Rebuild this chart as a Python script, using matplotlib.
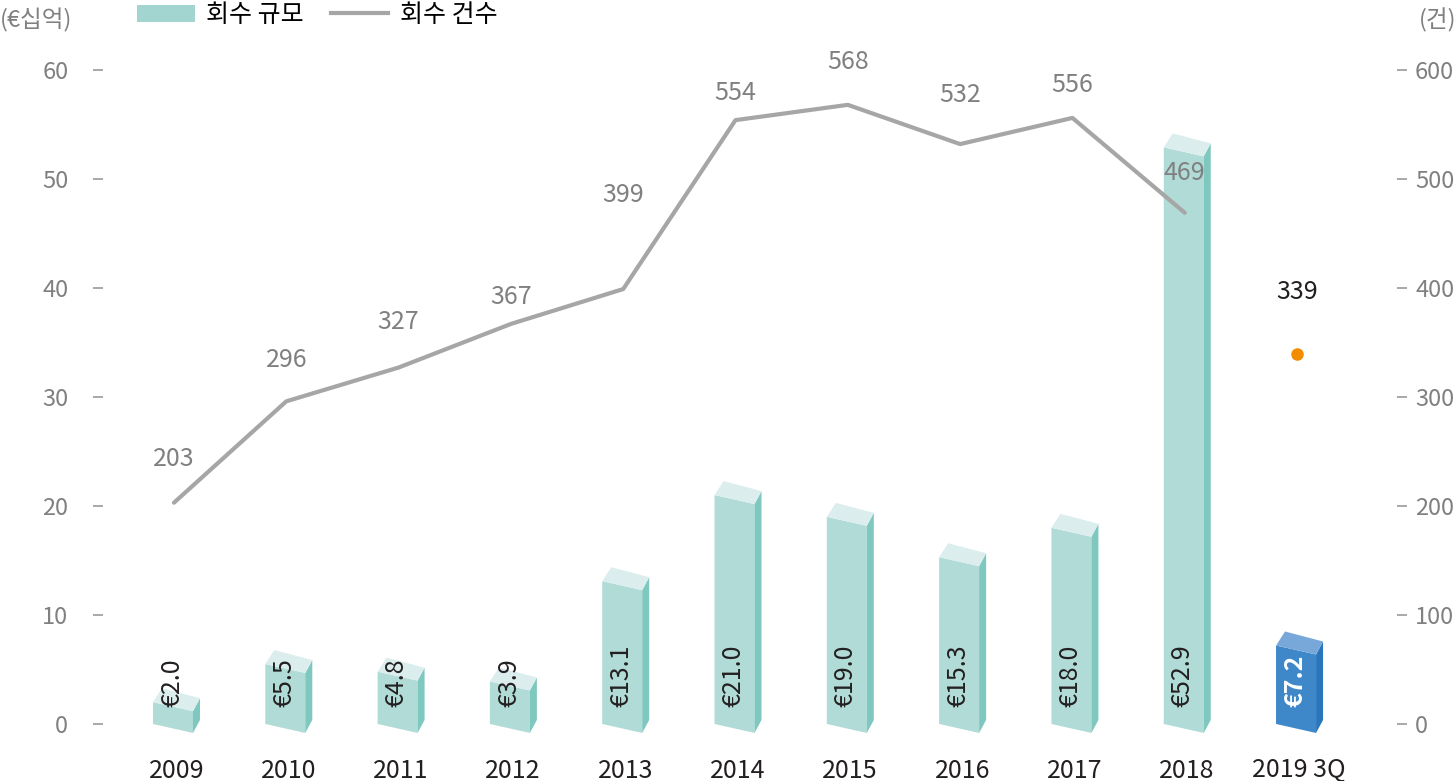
import matplotlib
matplotlib.use('Agg')
import matplotlib.pyplot as plt
from matplotlib.patches import Polygon, Patch
from matplotlib.lines import Line2D
import numpy as np

plt.rcParams['font.family'] = ['Noto Sans CJK KR', 'DejaVu Sans']

# 데이터
years = ['2009', '2010', '2011', '2012', '2013', '2014', '2015', '2016', '2017', '2018', '2019 3Q']
amount = [2.0, 5.5, 4.8, 3.9, 13.1, 21.0, 19.0, 15.3, 18.0, 52.9, 7.2]   # 회수 규모 (€십억)
count = [203, 296, 327, 367, 399, 554, 568, 532, 556, 469]             # 회수 건수 (2009-2018)
count_2019 = 339                                                         # 2019 3Q

# 라벨 위치 (픽셀, 점 기준 위쪽)
label_dy = [44, 41, 46, 27, 94, 27, 43, 49, 33, 40]

gray = '#808080'
dark = '#231f20'
fs = 17

fig = plt.figure(figsize=(14.56, 7.81), dpi=100)
W, H = 1456, 781
ax = fig.add_axes([103 / W, (H - 745) / H, (1397 - 103) / W, (745 - 40) / H])
ax2 = ax.twinx()

x = np.arange(len(years))
ax.set_xlim(-0.632, 10.89)
ax.set_ylim(-1.93, 62.75)
ax2.set_ylim(-19.3, 627.5)

ax.set_yticks(range(0, 61, 10))
ax2.set_yticks(range(0, 601, 100))
ax.set_xticks(x + 0.02)
ax.set_xticklabels(years)

for a in (ax, ax2):
    for s in a.spines.values():
        s.set_visible(False)
ax.tick_params(axis='x', length=0, pad=9, labelsize=fs + 1, labelcolor=dark)
ax.tick_params(axis='y', direction='out', length=7, width=1.2, color='#999999',
               pad=18, labelsize=fs, labelcolor=gray)
ax2.tick_params(axis='y', direction='out', length=7, width=1.2, color='#999999',
                pad=6, labelsize=fs, labelcolor=gray)

# 3D 막대
teal = ('#b0dbd7', '#dbeeed', '#7ec8bf')
blue = ('#3e87c9', '#78a8da', '#2a76bd')
inv = ax.transData.inverted()
for i, v in enumerate(amount):
    front, top, side = blue if i == len(amount) - 1 else teal
    cx, y0 = ax.transData.transform((x[i], 0))
    _, yv = ax.transData.transform((x[i], v))
    xl, xr = cx - 21, cx + 19
    sl = 9
    dx, dy = 7, 13
    faces = [
        ([(xl, y0), (xr, y0 - sl), (xr, yv - sl), (xl, yv)], front),
        ([(xr, y0 - sl), (xr + dx, y0 - sl + dy), (xr + dx, yv - sl + dy), (xr, yv - sl)], side),
        ([(xl, yv), (xr, yv - sl), (xr + dx, yv - sl + dy), (xl + dx + 2, yv + dy + 1)], top),
    ]
    for pts, col in faces:
        ax.add_patch(Polygon(inv.transform(pts), closed=True, facecolor=col,
                             edgecolor='none', zorder=2))
    last = i == len(amount) - 1
    ax.annotate('€%.1f' % v, (x[i], 0), xytext=(-2, 17), textcoords='offset pixels',
                rotation=90, ha='center', va='bottom', fontsize=fs + 1,
                color='white' if last else dark, fontweight='bold' if last else 'normal',
                zorder=3)

# 회수 건수 선
ax2.plot(x[:len(count)], count, color='#a6a6a6', lw=3, solid_capstyle='round', zorder=4)
for i, c in enumerate(count):
    ax2.annotate(str(c), (x[i], c), xytext=(0, label_dy[i]), textcoords='offset pixels',
                 ha='center', va='center', fontsize=fs + 1, color=gray)
ax2.plot([x[-1]], [count_2019], 'o', color='#f28c00', ms=8, zorder=4)
ax2.annotate(str(count_2019), (x[-1], count_2019), xytext=(0, 62), textcoords='offset pixels',
             ha='center', va='center', fontsize=fs + 1, color=dark)

# 단위
fig.text(0, 1 - 20 / H, '(€십억)', ha='left', va='center', fontsize=fs, color=gray)
fig.text(1, 1 - 20 / H, '(건)', ha='right', va='center', fontsize=fs, color=gray)

# 범례
handles = [Patch(facecolor='#a2d5cf', edgecolor='none', label='회수 규모'),
           Line2D([0], [0], color='#a6a6a6', lw=3, label='회수 건수')]
fig.legend(handles=handles, loc='upper left', bbox_to_anchor=(137 / W, 1 - 2 / H),
           ncol=2, frameon=False, fontsize=fs + 1, handlelength=2.3, handletextpad=0.45,
           columnspacing=1.1, borderpad=0, borderaxespad=0)

fig.savefig('out.png', dpi=100)
